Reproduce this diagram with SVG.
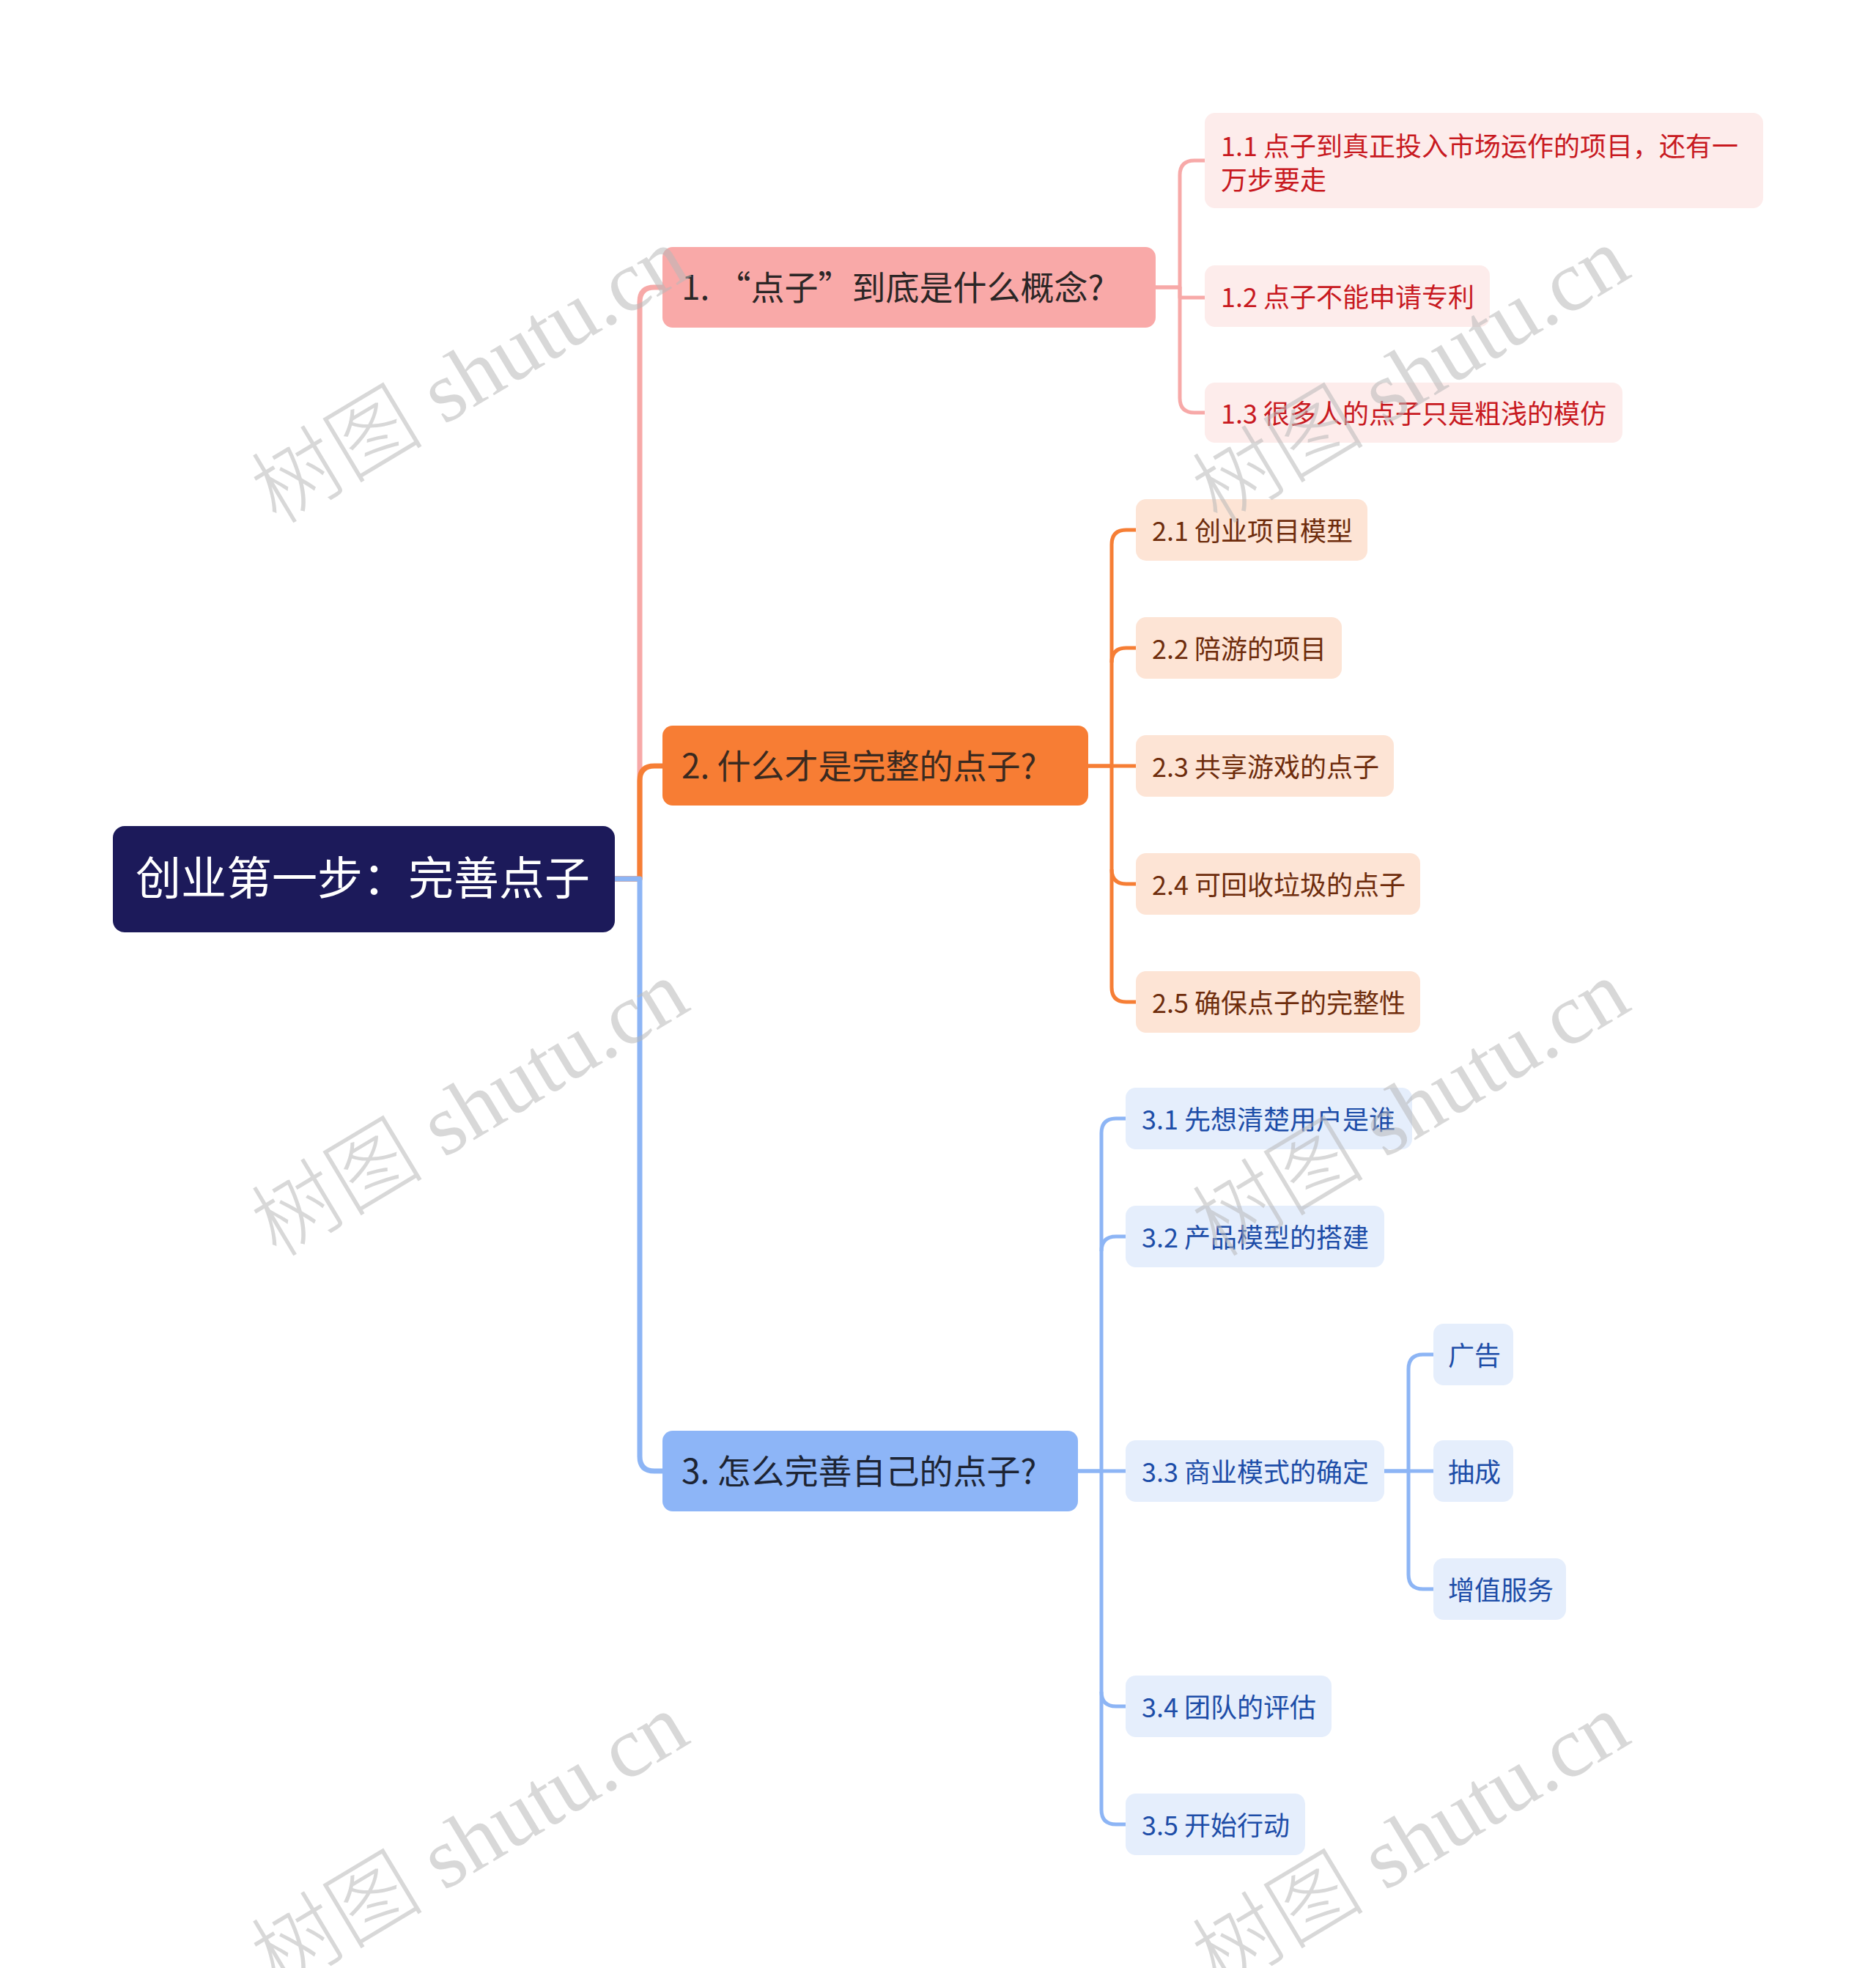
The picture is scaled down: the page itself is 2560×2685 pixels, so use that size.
<svg xmlns="http://www.w3.org/2000/svg" width="2560" height="2685" viewBox="0 0 2560 2685">
<style>
text{font-family:"Noto Sans CJK SC","Noto Sans",sans-serif}
.root{fill:#1c1a5a}
.rt{fill:#ffffff;font-size:62px}
.l1t{font-size:46px}
.l2t{font-size:36px}
.p1{fill:#f9a9a8}.p1t{fill:#2b2626}
.p2{fill:#fdeceb}.p2t{fill:#c8191f}
.o1{fill:#f77d34}.o1t{fill:#3a2a20}
.o2{fill:#fde4d5}.o2t{fill:#6e2c0c}
.b1{fill:#8db5f7}.b1t{fill:#1d2433}
.b2{fill:#e5eefc}.b2t{fill:#1d4da8}
.c{fill:none;stroke-linecap:butt;stroke-linejoin:round}
.cp{stroke:#f7a9a8}.co{stroke:#f67e35}.cb{stroke:#8db5f5}
.w7{stroke-width:7}.w5{stroke-width:5}
.wm{font-family:"Liberation Serif","Noto Sans CJK SC",serif;font-size:118px;font-weight:300;fill:#b8b8b8;fill-opacity:0.55;text-anchor:middle}
</style>
<rect width="2560" height="2685" fill="#ffffff"/>
<g id="connectors">
<path class="c cp w7" d="M839,1199 H873 V412 Q873,392 893,392 H904"/>
<path class="c co w7" d="M839,1199 H873 V1065 Q873,1045 893,1045 H904"/>
<path class="c cb w7" d="M839,1199 H873 V1987 Q873,2007 893,2007 H904"/>
<path class="c cp w5" d="M1577,392 H1610 V239 Q1610,219 1630,219 H1644"/>
<path class="c cp w5" d="M1577,392 H1610 V406 H1644"/>
<path class="c cp w5" d="M1610,392 V543 Q1610,563 1630,563 H1644"/>
<path class="c co w5" d="M1485,1045 H1517 V743 Q1517,723 1537,723 H1550"/>
<path class="c co w5" d="M1517,904 Q1517,884 1537,884 H1550"/>
<path class="c co w5" d="M1485,1045 H1550"/>
<path class="c co w5" d="M1517,1045 V1186 Q1517,1206 1537,1206 H1550"/>
<path class="c co w5" d="M1517,1186 V1347 Q1517,1367 1537,1367 H1550"/>
<path class="c cb w5" d="M1471,2007 H1503 V1546 Q1503,1526 1523,1526 H1536"/>
<path class="c cb w5" d="M1503,1707 Q1503,1687 1523,1687 H1536"/>
<path class="c cb w5" d="M1471,2007 H1536"/>
<path class="c cb w5" d="M1503,2007 V2308 Q1503,2328 1523,2328 H1536"/>
<path class="c cb w5" d="M1503,2308 V2469 Q1503,2489 1523,2489 H1536"/>
<path class="c cb w5" d="M1889,2007 H1922 V1868 Q1922,1848 1942,1848 H1956"/>
<path class="c cb w5" d="M1889,2007 H1956"/>
<path class="c cb w5" d="M1922,2007 V2148 Q1922,2168 1942,2168 H1956"/>
</g>
<g id="root">
<rect class="root" x="154" y="1127" width="685" height="145" rx="16"/>
<text class="rt" x="185" y="1221">创业第一步：完善点子</text>
</g>
<g id="n1">
<rect class="p1" x="904" y="337" width="673" height="110" rx="14"/>
<text class="l1t p1t" x="930" y="409">1. “点子”到底是什么概念?</text>
</g>
<g id="n1-1">
<rect class="p2" x="1644" y="154" width="762" height="130" rx="14"/>
<text class="l2t p2t" x="1666" y="213">1.1 点子到真正投入市场运作的项目，还有一</text>
<text class="l2t p2t" x="1666" y="259">万步要走</text>
</g>
<g id="n1-2">
<rect class="p2" x="1644" y="362" width="389" height="84" rx="14"/>
<text class="l2t p2t" x="1666" y="419">1.2 点子不能申请专利</text>
</g>
<g id="n1-3">
<rect class="p2" x="1644" y="522" width="570" height="82" rx="14"/>
<text class="l2t p2t" x="1666" y="578">1.3 很多人的点子只是粗浅的模仿</text>
</g>
<g id="n2">
<rect class="o1" x="904" y="990" width="581" height="109" rx="14"/>
<text class="l1t o1t" x="930" y="1062">2. 什么才是完整的点子?</text>
</g>
<g id="n2-1">
<rect class="o2" x="1550" y="681" width="316" height="84" rx="14"/>
<text class="l2t o2t" x="1572" y="738">2.1 创业项目模型</text>
</g>
<g id="n2-2">
<rect class="o2" x="1550" y="842" width="281" height="84" rx="14"/>
<text class="l2t o2t" x="1572" y="899">2.2 陪游的项目</text>
</g>
<g id="n2-3">
<rect class="o2" x="1550" y="1003" width="352" height="84" rx="14"/>
<text class="l2t o2t" x="1572" y="1060">2.3 共享游戏的点子</text>
</g>
<g id="n2-4">
<rect class="o2" x="1550" y="1164" width="388" height="84" rx="14"/>
<text class="l2t o2t" x="1572" y="1221">2.4 可回收垃圾的点子</text>
</g>
<g id="n2-5">
<rect class="o2" x="1550" y="1325" width="388" height="84" rx="14"/>
<text class="l2t o2t" x="1572" y="1382">2.5 确保点子的完整性</text>
</g>
<g id="n3">
<rect class="b1" x="904" y="1952" width="567" height="110" rx="14"/>
<text class="l1t b1t" x="930" y="2024">3. 怎么完善自己的点子?</text>
</g>
<g id="n3-1">
<rect class="b2" x="1536" y="1484" width="391" height="84" rx="14"/>
<text class="l2t b2t" x="1558" y="1541">3.1 先想清楚用户是谁</text>
</g>
<g id="n3-2">
<rect class="b2" x="1536" y="1645" width="353" height="84" rx="14"/>
<text class="l2t b2t" x="1558" y="1702">3.2 产品模型的搭建</text>
</g>
<g id="n3-3">
<rect class="b2" x="1536" y="1965" width="353" height="84" rx="14"/>
<text class="l2t b2t" x="1558" y="2022">3.3 商业模式的确定</text>
</g>
<g id="n3-3-1">
<rect class="b2" x="1956" y="1806" width="109" height="84" rx="14"/>
<text class="l2t b2t" x="1976" y="1863">广告</text>
</g>
<g id="n3-3-2">
<rect class="b2" x="1956" y="1965" width="109" height="84" rx="14"/>
<text class="l2t b2t" x="1976" y="2022">抽成</text>
</g>
<g id="n3-3-3">
<rect class="b2" x="1956" y="2126" width="181" height="84" rx="14"/>
<text class="l2t b2t" x="1976" y="2183">增值服务</text>
</g>
<g id="n3-4">
<rect class="b2" x="1536" y="2286" width="281" height="84" rx="14"/>
<text class="l2t b2t" x="1558" y="2343">3.4 团队的评估</text>
</g>
<g id="n3-5">
<rect class="b2" x="1536" y="2447" width="245" height="84" rx="14"/>
<text class="l2t b2t" x="1558" y="2504">3.5 开始行动</text>
</g>
<g id="watermarks">
<text class="wm" transform="translate(642,514) rotate(-31)" y="38">树图 shutu.cn</text>
<text class="wm" transform="translate(1926,514) rotate(-31)" y="38">树图 shutu.cn</text>
<text class="wm" transform="translate(642,1514) rotate(-31)" y="38">树图 shutu.cn</text>
<text class="wm" transform="translate(1926,1514) rotate(-31)" y="38">树图 shutu.cn</text>
<text class="wm" transform="translate(642,2514) rotate(-31)" y="38">树图 shutu.cn</text>
<text class="wm" transform="translate(1926,2514) rotate(-31)" y="38">树图 shutu.cn</text>
</g>
</svg>
